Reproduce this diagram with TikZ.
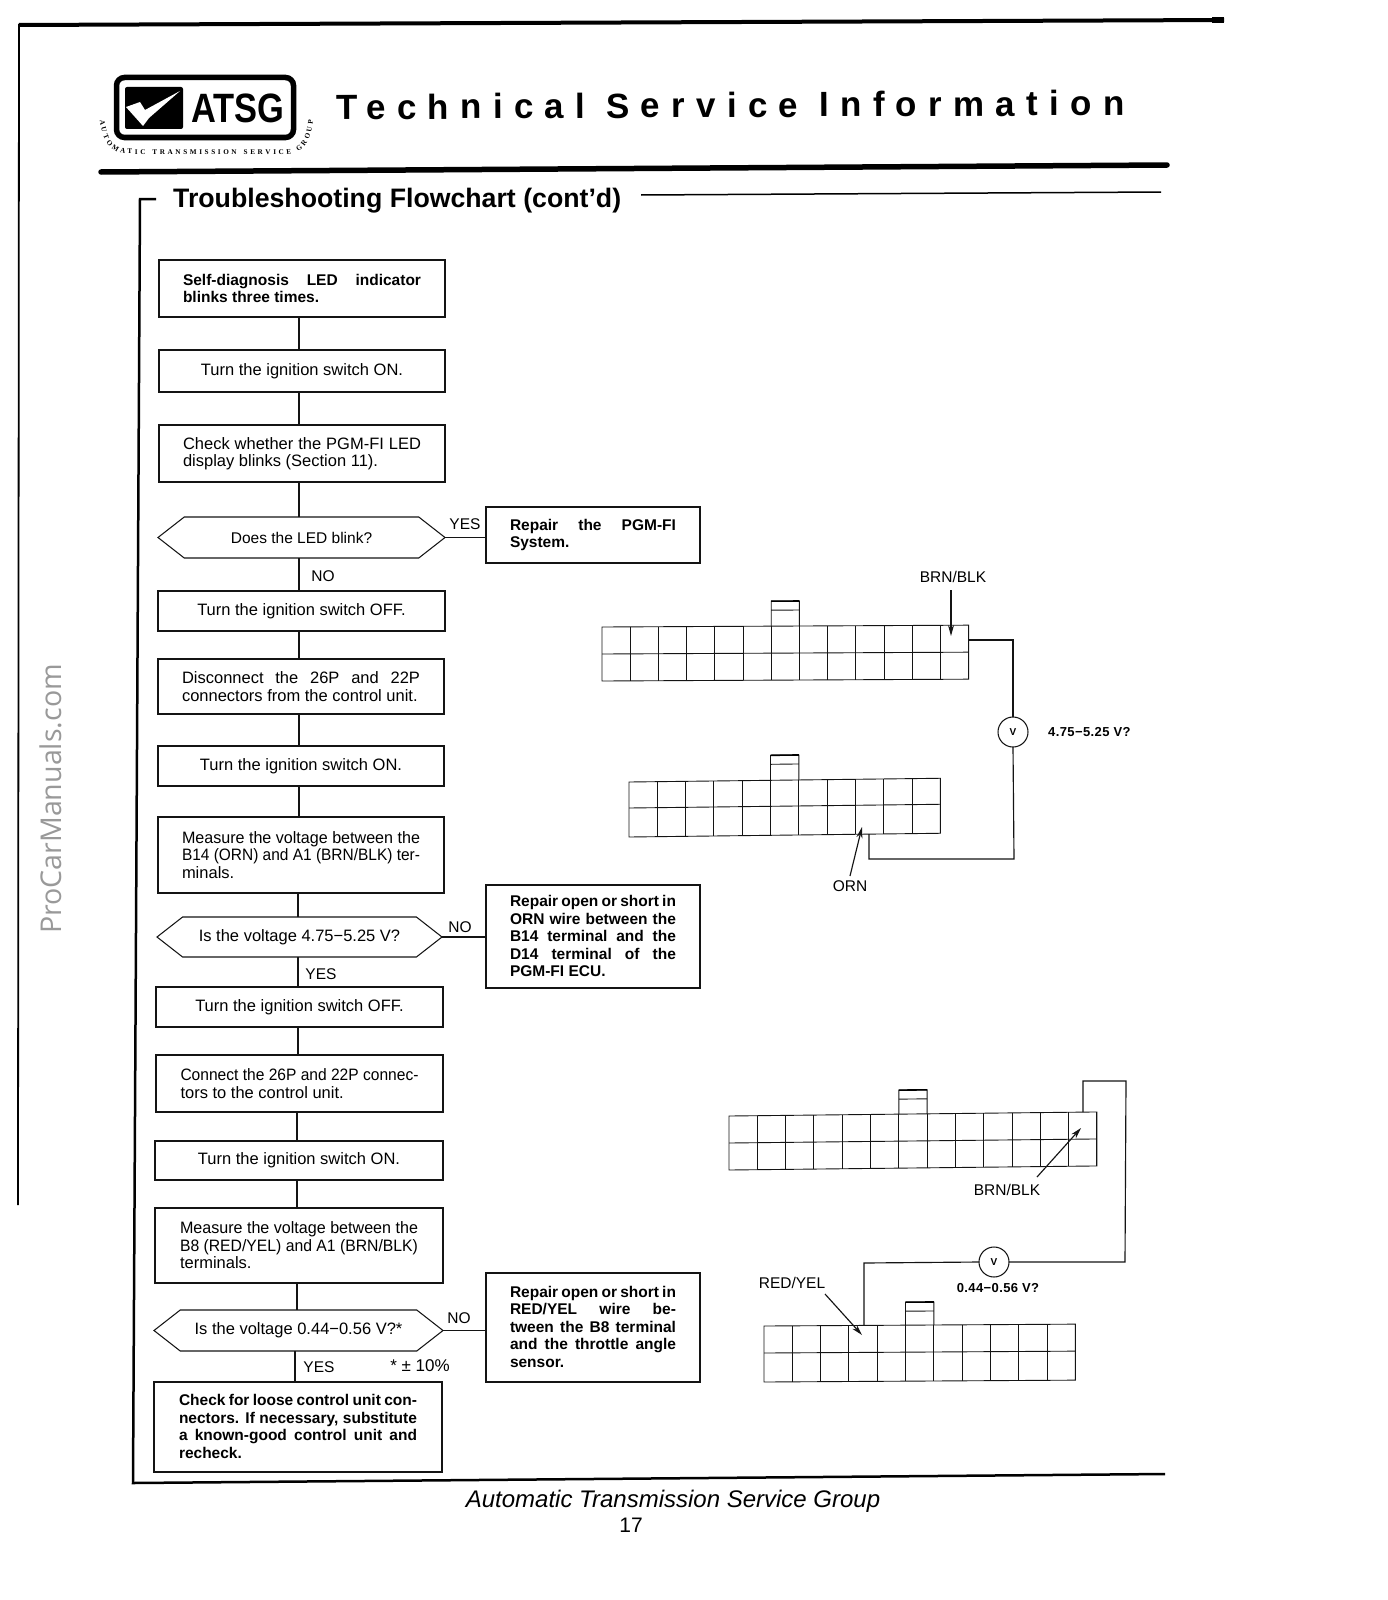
\documentclass[tikz,border=0pt]{standalone}
\usepackage{fontspec}
\usepackage{graphicx}
\setmainfont{Liberation Sans}
\newfontfamily\wmfont{Open Sans}
\newfontfamily\slabfont{Liberation Serif}
\usetikzlibrary{arrows.meta,shapes.symbols,decorations.text,calc}
\newcommand\bfs{\bfseries\fontsize{15.5}{17.5}\selectfont}
\tikzset{
  ink/.style={draw=black!92,line width=1.05pt},
  flowbox/.style={ink,rectangle,inner sep=0pt,outer sep=0pt,align=left,font=\fontsize{16.5}{17.5}\selectfont},
  flowdec/.style={ink,shape=signal,signal to=east and west,signal pointer angle=76,inner sep=0pt,outer sep=0pt,font=\fontsize{16.5}{17.5}\selectfont},
  link/.style={draw=black!92,line width=1.05pt},
  wire/.style={draw=black!92,line width=1.15pt},
  tag/.style={inner sep=0pt,font=\fontsize{15.5}{17.5}\selectfont},
  pointer/.style={draw=black!92,line width=1.15pt,-{Stealth[length=11pt,width=6pt]}},
  meter/.style={ink,circle,minimum size=30pt,inner sep=0pt,outer sep=0pt,fill=white,font=\bfseries\fontsize{10}{12}\selectfont},
  reading/.style={inner sep=0pt,font=\bfseries\fontsize{13}{14}\selectfont\addfontfeature{LetterSpace=3}},
  gridline/.style={draw=black!92,line width=.9pt}
}
\newcommand\fbx[6]{%
  \pgfmathsetmacro\bxcx{(#2+#4)/2}\pgfmathsetmacro\bxcy{(#3+#5)/2}%
  \pgfmathsetmacro\bxW{#4-#2}\pgfmathsetmacro\bxH{#5-#3}%
  \node[flowbox,minimum width=\bxW pt,minimum height=\bxH pt] (#1) at (\bxcx,\bxcy) {#6};}
\newcommand\fdc[6]{%
  \pgfmathsetmacro\bxcx{(#2+#4)/2}\pgfmathsetmacro\bxcy{(#3+#5)/2}%
  \pgfmathsetmacro\bxW{#4-#2}\pgfmathsetmacro\bxH{#5-#3}%
  \node[flowdec,minimum width=\bxW pt,minimum height=\bxH pt] (#1) at (\bxcx,\bxcy) {#6};}
\newcommand\mjl[1]{\hbox to 238pt{#1}}
\newcommand\mll[1]{\hbox to 238pt{#1\hfil}}
\newcommand\msq[1]{\hbox to 238pt{\resizebox{238pt}{\height}{#1}}}
\newcommand\mjr[1]{\hbox to 166pt{#1}}
\newcommand\mlr[1]{\hbox to 166pt{#1\hfil}}
\newcommand\mstack[1]{\vbox{\hbadness=10000 \hfuzz=20pt \baselineskip=17.5pt #1}}
% x0 y0 cols cellw h1 h2 tabcol tabh slope
\newcommand\conn[9]{%
  \begin{scope}[shift={(#1,#2)},yslant=#9]
    \draw[gridline] (0,0) rectangle (#3*#4,#5+#6);
    \draw[gridline] (0,#5) -- (#3*#4,#5);
    \foreach \cc in {1,...,#3}{\draw[gridline] (\cc*#4,0) -- (\cc*#4,#5+#6);}
    \draw[gridline] (#7*#4,0) -- (#7*#4,-#8) -- (#7*#4+#4,-#8) -- (#7*#4+#4,0);
    \draw[gridline] (#7*#4,-#8+9) -- (#7*#4+#4,-#8+9);
    \draw[line width=1.6pt] (#7*#4,-#8) -- (#7*#4+#4,-#8);
  \end{scope}}
\begin{document}
\begin{tikzpicture}[x=1pt,y=-1pt]
\useasboundingbox[fill=white] (0,0) rectangle (1387,1600);
% page frame
\draw[line width=4pt] (19,25) -- (1224,20);
\draw[line width=6pt] (1212,20) -- (1224,20);
\draw[line width=1.8pt] (19,24) -- (18,1205);
% logo
\draw[line width=5.5pt,rounded corners=8pt] (116.5,77.5) rectangle (293.5,137.5);
\fill[black,rounded corners=2pt] (125,87) rectangle (183,129);
\fill[white] (126,107) -- (140,102) -- (145,110) -- (180,91) -- (149,118) -- (143,126) -- cycle;
\node[inner sep=0pt,xscale=.84,font=\bfseries\fontsize{41}{41}\selectfont] (logotext) at (238,108) {ATSG};
\path[postaction={decorate,decoration={text along path,text align={fit to path},
   text={|\slabfont\bfseries\fontsize{7.2}{8}\selectfont|AUTOMATIC TRANSMISSION SERVICE GROUP}}}]
   (100,120) .. controls (102,143) and (112,154) .. (130,154) -- (285,154) .. controls (303,154) and (311,143) .. (313,120);
% title
\node[anchor=west,inner sep=0pt,rotate=.3,font=\bfseries\fontsize{35}{36}\selectfont\addfontfeature{LetterSpace=32.2}] (title) at (336,107) {Technical Service Information};
\draw[line width=5.5pt,line cap=round] (101,172) -- (1167,165);
\node[anchor=west,inner sep=0pt,font=\bfseries\fontsize{26.7}{28}\selectfont] (heading) at (173,201) {Troubleshooting Flowchart (cont'd)};
\draw[line width=1.5pt] (641,195) -- (1161,192);
\draw[line width=2.5pt] (156,199) -- (140,199) -- (133,1483) -- (1165,1474);
% watermark
\node[rotate=90,inner sep=0pt,text=black!40,font=\wmfont\fontsize{28.6}{30}\selectfont] (mark) at (51,799) {ProCarManuals.com};
% flow boxes
\fbx{b1}{159}{260}{445}{317}{\bfs\mstack{\mjl{Self-diagnosis LED indicator}\mll{blinks three times.}}}
\fbx{b2}{159}{350}{445}{392}{\hbox to 286pt{\hfil Turn the ignition switch ON.\hfil}}
\fbx{b3}{159}{425}{445}{482}{\mstack{\mjl{Check whether the PGM-FI LED}\mll{display blinks (Section 11).}}}
\fdc{d1}{158}{517}{445}{558}{\fontsize{15.5}{17.5}\selectfont Does the LED blink?}
\fbx{r1}{486}{507}{700}{563}{\bfs\raisebox{-2pt}{\mstack{\mjr{Repair the PGM-FI}\mlr{System.}}}}
\fbx{b4}{158}{591}{445}{631}{\hbox to 286pt{\hfil Turn the ignition switch OFF.\hfil}}
\fbx{b5}{158}{659}{444}{714}{\mstack{\mjl{Disconnect the 26P and 22P}\mll{connectors from the control unit.}}}
\fbx{b6}{158}{746}{444}{786}{\hbox to 286pt{\hfil Turn the ignition switch ON.\hfil}}
\fbx{b7}{158}{817}{444}{893}{\mstack{\msq{Measure the voltage between the}\msq{B14 (ORN) and A1 (BRN/BLK) ter-}\mll{minals.}}}
\fdc{d2}{157}{917}{442}{957}{Is the voltage 4.75−5.25 V?}
\fbx{r2}{486}{885}{700}{988}{\bfs\raisebox{1pt}{\mstack{\mjr{Repair open or short in}\mjr{ORN wire between the}\mjr{B14 terminal and the}\mjr{D14 terminal of the}\mlr{PGM-FI ECU.}}}}
\fbx{b8}{156}{987}{443}{1027}{\hbox to 286pt{\hfil Turn the ignition switch OFF.\hfil}}
\fbx{b9}{156}{1055}{443}{1112}{\mstack{\msq{Connect the 26P and 22P connec-}\mll{tors to the control unit.}}}
\fbx{b10}{155}{1141}{443}{1180}{\hbox to 286pt{\hfil Turn the ignition switch ON.\hfil}}
\fbx{b11}{155}{1208}{443}{1283}{\mstack{\msq{Measure the voltage between the}\msq{B8 (RED/YEL) and A1 (BRN/BLK)}\mll{terminals.}}}
\fdc{d3}{154}{1310}{443}{1351}{Is the voltage 0.44−0.56 V?*}
\fbx{r3}{486}{1273}{700}{1382}{\bfs\raisebox{2pt}{\mstack{\mjr{Repair open or short in}\mjr{RED/YEL wire be-}\mjr{tween the B8 terminal}\mjr{and the throttle angle}\mlr{sensor.}}}}
\fbx{b12}{154}{1382}{442}{1472}{\bfs\raisebox{1pt}{\mstack{\mjl{Check for loose control unit con-}\mjl{nectors. If necessary, substitute}\mjl{a known-good control unit and}\mll{recheck.}}}}
% flow links
\coordinate (sa) at (299,0);\coordinate (sb) at (298,0);\coordinate (sc) at (297,0);\coordinate (sd) at (295,0);
\draw[link] (b1.south -| sa) -- (b2.north -| sa);
\draw[link] (b2.south -| sa) -- (b3.north -| sa);
\draw[link] (b3.south -| sa) -- (d1.north -| sa);
\draw[link] (d1.south -| sa) -- (b4.north -| sa);
\draw[link] (b4.south -| sa) -- (b5.north -| sa);
\draw[link] (b5.south -| sa) -- (b6.north -| sa);
\draw[link] (b6.south -| sa) -- (b7.north -| sa);
\draw[link] (b7.south -| sb) -- (d2.north -| sb);
\draw[link] (d2.south -| sb) -- (b8.north -| sb);
\draw[link] (b8.south -| sb) -- (b9.north -| sb);
\draw[link] (b9.south -| sc) -- (b10.north -| sc);
\draw[link] (b10.south -| sc) -- (b11.north -| sc);
\draw[link] (b11.south -| sc) -- (d3.north -| sc);
\draw[link] (d3.south -| sd) -- (b12.north -| sd);
\draw[link] (d1.east) -- (d1.east -| r1.west);
\draw[link] (d2.east) -- (d2.east -| r2.west);
\draw[link] (d3.east) -- (d3.east -| r3.west);
% flow labels
\node[tag] (l1) at (465,524) {YES};
\node[tag] (l2) at (323,576) {NO};
\node[tag] (l3) at (460,927) {NO};
\node[tag] (l4) at (321,974) {YES};
\node[tag] (l5) at (459,1318) {NO};
\node[tag] (l6) at (319,1367) {YES};
\node[tag,font=\fontsize{17}{18}\selectfont] (l7) at (420,1366) {* ± 10\%};
% connectors
\conn{602}{627}{13}{28.2}{27}{27}{6}{25}{0.005}
\conn{629}{782}{11}{28.3}{26}{29}{5}{25}{0.012}
\conn{729}{1116}{13}{28.3}{27}{27}{6}{24}{0.011}
\conn{764}{1326}{11}{28.3}{27}{29}{5}{23}{0.006}
% first meter
\node[meter] (v1) at (1013,732) {V};
\coordinate (w1a) at (969,640);\coordinate (w1b) at (1013,640);
\coordinate (w1c) at (1014,859);\coordinate (w1d) at (869,859);\coordinate (w1e) at (869,834);
\draw[wire] (w1a) -- (w1b) -- (v1.north);
\draw[wire] (v1.south) -- (w1c) -- (w1d) -- (w1e);
\node[reading,anchor=west] (r1v) at (1048,732) {4.75−5.25 V?};
\node[tag] (t1) at (953,577) {BRN/BLK};
\coordinate (a1) at (951,590);\coordinate (a1e) at (951,636);
\draw[pointer] (a1) -- (a1e);
\node[tag] (t2) at (850,886) {ORN};
\coordinate (a2) at (850,876);\coordinate (a2e) at (862,827);
\draw[pointer] (a2) -- (a2e);
% second meter
\node[meter] (v2) at (994,1262) {V};
\coordinate (w2a) at (1083,1112);\coordinate (w2b) at (1083,1081);\coordinate (w2c) at (1126,1081);
\coordinate (w2d) at (1125,1262);\coordinate (w2e) at (864,1263);\coordinate (w2f) at (864,1325);
\draw[wire] (w2a) -- (w2b) -- (w2c) -- (w2d) -- (v2.east);
\draw[wire] (v2.west) -- (w2e) -- (w2f);
\node[reading] (r2v) at (998,1288) {0.44−0.56 V?};
\node[tag] (t3) at (1007,1190) {BRN/BLK};
\coordinate (a3) at (1037,1177);\coordinate (a3e) at (1081,1128);
\draw[pointer] (a3) -- (a3e);
\node[tag] (t4) at (792,1283) {RED/YEL};
\coordinate (a4) at (825,1294);\coordinate (a4e) at (862,1335);
\draw[pointer] (a4) -- (a4e);
% footer
\node[inner sep=0pt,font=\itshape\fontsize{24}{26}\selectfont] (foot) at (673,1501) {Automatic Transmission Service Group};
\node[inner sep=0pt,font=\fontsize{21}{24}\selectfont] (page) at (631,1525) {17};
\end{tikzpicture}
\end{document}
